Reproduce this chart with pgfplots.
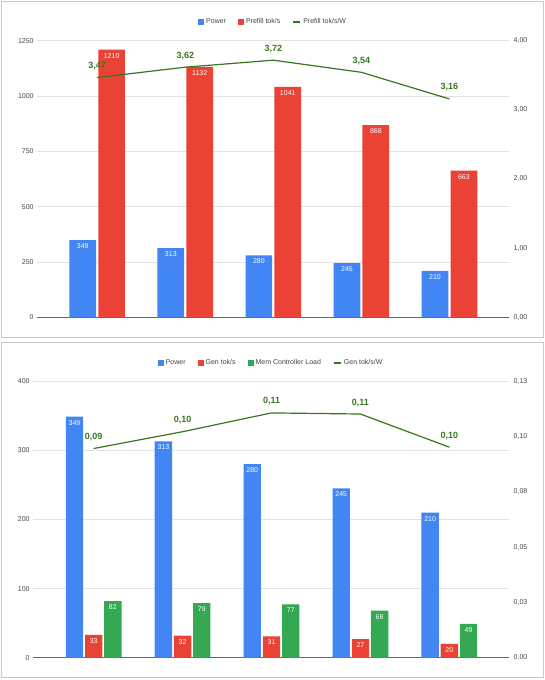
\documentclass[border=0pt]{standalone}
\usepackage{pgfplots}
\pgfplotsset{compat=1.18}
\usepackage{fontspec}
\setmainfont{Liberation Sans}
\definecolor{pblue}{HTML}{4285F4}
\definecolor{pred}{HTML}{EA4335}
\definecolor{pgreen}{HTML}{34A853}
\definecolor{lgreen}{HTML}{38761D}
\definecolor{tickgray}{HTML}{444444}
\definecolor{gridgray}{HTML}{E2E2E2}
\definecolor{basegray}{HTML}{666666}
\definecolor{bordergray}{HTML}{C8C8C8}
\newcommand\sz[1]{\fontsize{#1}{#1}\selectfont}
\pgfplotsset{
  /pgf/number format/1000 sep={},
  base/.style={scale only axis, anchor=south west, ymin=0,
    xtick=\empty, major tick length=0pt, tick style={draw=none},
    ticklabel style={font=\sz{7}, text=tickgray},
    /pgf/number format/assume math mode=true, clip=false},
  leftax/.style={base, ybar, axis x line*=bottom, axis y line*=left,
    x axis line style={draw=basegray, line width=0.9pt, -},
    y axis line style={draw=none}, ymajorgrids,
    major grid style={draw=gridgray, line width=0.8pt},
    yticklabel style={inner sep=0pt, xshift=-3.5pt}},
  rightax/.style={base, axis x line=none, axis y line*=right,
    y axis line style={draw=none},
    yticklabel style={inner sep=0pt, xshift=4.5pt}},
  sq/.style={legend image code/.code={\fill (0pt,-3pt) rectangle (6pt,3pt);}},
  barlab/.style={nodes near coords,
    every node near coord/.append style={font=\sz{7}, text=white, anchor=base, yshift=-8.5pt}},
  linelab/.style={nodes near coords={\pgfmathprintnumber[fixed,fixed zerofill,precision=2,use comma]{\pgfplotspointmeta}},
    every node near coord/.append style={font=\bfseries\sz{9}, text=lgreen, anchor=base, yshift=9pt}},
  lg/.style={legend style={at={(0.5,#1)}, anchor=center, draw=none, fill=none,
    font=\sz{7}, text=tickgray, legend columns=-1,
    /tikz/every even column/.append style={column sep=10pt}}},
}
\begin{document}
\begin{tikzpicture}
\path (0pt,0pt) rectangle (545pt,680pt);
\draw[bordergray, line width=1pt] (1.7pt,342.7pt) rectangle (543.3pt,678.3pt);
\draw[bordergray, line width=1pt] (1.7pt,2.7pt) rectangle (543.3pt,337.7pt);

% ---------- top panel ----------
\begin{axis}[leftax, at={(37.3pt,362.7pt)}, width=471.7pt, height=276.6pt,
  xmin=-0.68, xmax=4.676, ymax=1250, ytick={0,250,500,750,1000,1250}, lg=1.0676]
\addplot[bar width=0.303, bar shift=-0.164, fill=pblue, draw=none, sq, barlab]
  coordinates {(0,349) (1,313) (2,280) (3,245) (4,210)};
\addlegendentry{Power}
\addplot[bar width=0.303, bar shift=0.164, fill=pred, draw=none, sq, barlab]
  coordinates {(0,1210) (1,1132) (2,1041) (3,868) (4,663)};
\addlegendentry{Prefill tok/s}
\addlegendimage{lgreen, line width=2pt, legend image code/.code={\draw (0pt,0pt) -- (7pt,0pt);}}
\addlegendentry{Prefill tok/s/W}
\end{axis}
\begin{axis}[rightax, at={(37.3pt,362.7pt)}, width=471.7pt, height=276.6pt,
  xmin=-0.68, xmax=4.676, ymax=4, ytick={0,1,2,3,4},
  yticklabels={{0,00},{1,00},{2,00},{3,00},{4,00}}]
\addplot[lgreen, line width=1.2pt, mark=none, linelab]
  coordinates {(0,3.467) (1,3.617) (2,3.718) (3,3.543) (4,3.157)};
\end{axis}

% ---------- bottom panel ----------
\begin{axis}[leftax, at={(33.3pt,22.3pt)}, width=475.7pt, height=276.4pt,
  xmin=-0.679, xmax=4.671, ymax=400, ytick={0,100,200,300,400}, lg=1.0673]
\addplot[bar width=0.195, bar shift=-0.216, fill=pblue, draw=none, sq, barlab]
  coordinates {(0,349) (1,313) (2,280) (3,245) (4,210)};
\addlegendentry{Power}
\addplot[bar width=0.195, bar shift=0, fill=pred, draw=none, sq, barlab]
  coordinates {(0,33) (1,32) (2,31) (3,27) (4,20)};
\addlegendentry{Gen tok/s}
\addplot[bar width=0.195, bar shift=0.216, fill=pgreen, draw=none, sq, barlab]
  coordinates {(0,82) (1,79) (2,77) (3,68) (4,49)};
\addlegendentry{Mem Controller Load}
\addlegendimage{lgreen, line width=2pt, legend image code/.code={\draw (0pt,0pt) -- (7pt,0pt);}}
\addlegendentry{Gen tok/s/W}
\end{axis}
\begin{axis}[rightax, at={(33.3pt,22.3pt)}, width=475.7pt, height=276.4pt,
  xmin=-0.679, xmax=4.671, ymax=0.125, ytick={0,0.025,0.05,0.075,0.1,0.125},
  yticklabels={{0,00},{0,03},{0,05},{0,08},{0,10},{0,13}}]
\addplot[lgreen, line width=1.2pt, mark=none, linelab]
  coordinates {(0,0.0946) (1,0.1022) (2,0.1107) (3,0.1102) (4,0.0952)};
\end{axis}
\end{tikzpicture}
\end{document}
